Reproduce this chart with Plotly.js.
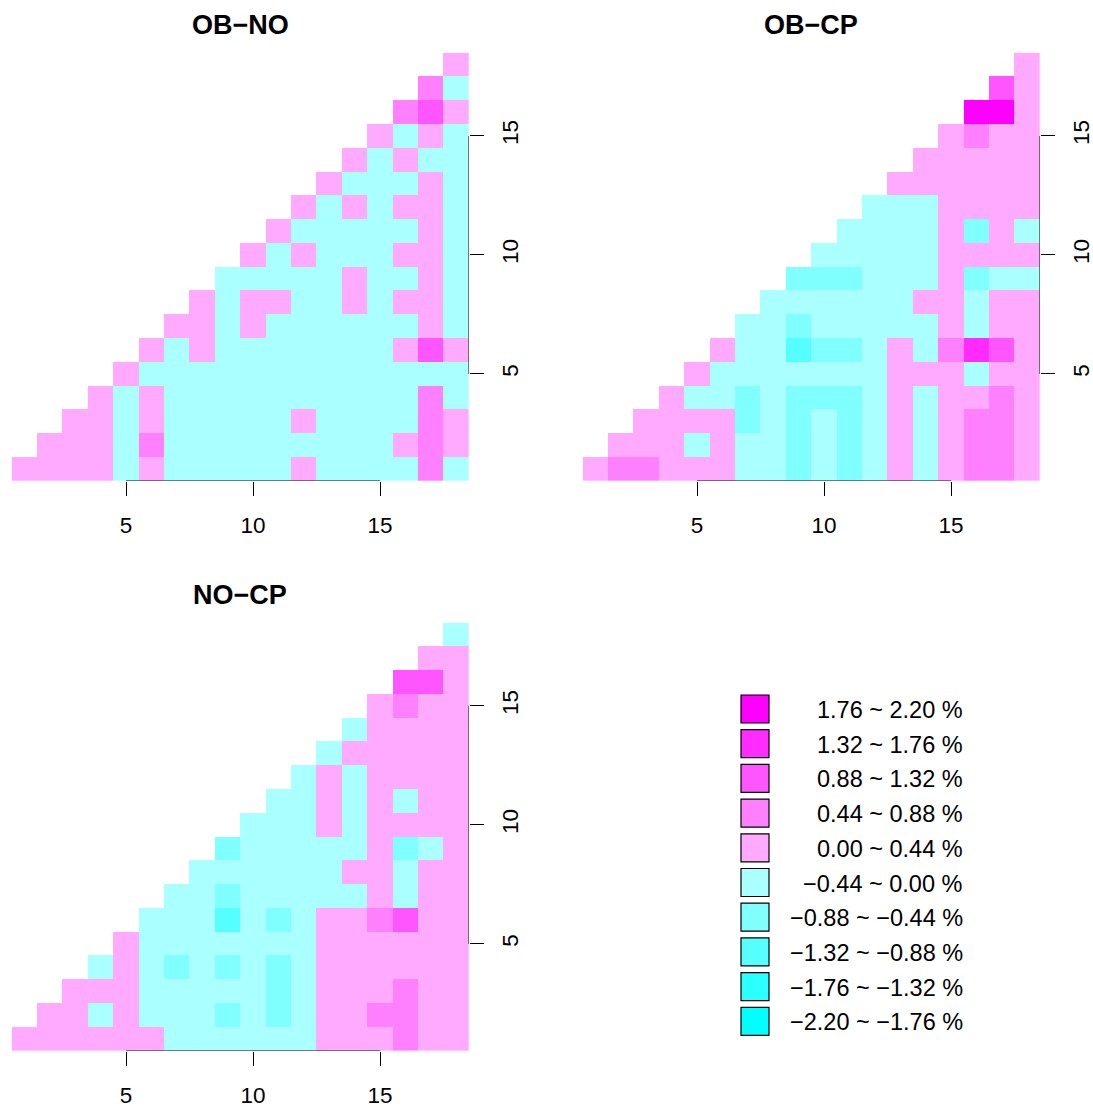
<!DOCTYPE html>
<html>
<head>
<meta charset="utf-8">
<script src="https://cdn.plot.ly/plotly-3.0.1.min.js"></script>
<style>html,body{margin:0;padding:0;background:#fff;}#chart{width:1093px;height:1108px;}</style>
</head>
<body>
<div id="chart"></div>
<script>
// ---------- data (percent differences, read per cell; row y holds cells x = y..18) ----------
const cols = [1,2,3,4,5,6,7,8,9,10,11,12,13,14,15,16,17,18];
const rowsY = [1,2,3,4,5,6,7,8,9,10,11,12,13,14,15,16,17,18];
const tickVals = [5, 10, 15];
const panelTitles = ["OB\u2212NO", "OB\u2212CP", "NO\u2212CP"];
const breaks = [-2.20, -1.76, -1.32, -0.88, -0.44, 0.00, 0.44, 0.88, 1.32, 1.76, 2.20];
const classColors = ["#00FFFF","#2BFFFF","#55FFFF","#80FFFF","#AAFFFF","#FFAAFF","#FF80FF","#FF55FF","#FF2BFF","#FF00FF"];

const obNo = [
  [0.22,0.22,0.22,0.22,-0.22,0.22,-0.22,-0.22,-0.22,-0.22,-0.22,0.22,-0.22,-0.22,-0.22,-0.22,0.66,-0.22],
  [0.22,0.22,0.22,-0.22,0.66,-0.22,-0.22,-0.22,-0.22,-0.22,-0.22,-0.22,-0.22,-0.22,0.22,0.66,0.22],
  [0.22,0.22,-0.22,0.22,-0.22,-0.22,-0.22,-0.22,-0.22,0.22,-0.22,-0.22,-0.22,-0.22,0.66,0.22],
  [0.22,-0.22,0.22,-0.22,-0.22,-0.22,-0.22,-0.22,-0.22,-0.22,-0.22,-0.22,-0.22,0.66,-0.22],
  [0.22,-0.22,-0.22,-0.22,-0.22,-0.22,-0.22,-0.22,-0.22,-0.22,-0.22,-0.22,-0.22,-0.22],
  [0.22,-0.22,0.22,-0.22,-0.22,-0.22,-0.22,-0.22,-0.22,-0.22,0.22,1.10,0.22],
  [0.22,0.22,-0.22,0.22,-0.22,-0.22,-0.22,-0.22,-0.22,-0.22,0.22,-0.22],
  [0.22,-0.22,0.22,0.22,-0.22,-0.22,0.22,-0.22,0.22,0.22,-0.22],
  [-0.22,-0.22,-0.22,-0.22,-0.22,0.22,-0.22,-0.22,0.22,-0.22],
  [0.22,-0.22,0.22,-0.22,-0.22,-0.22,0.22,0.22,-0.22],
  [0.22,-0.22,-0.22,-0.22,-0.22,-0.22,0.22,-0.22],
  [0.22,-0.22,0.22,-0.22,0.22,0.22,-0.22],
  [0.22,-0.22,-0.22,-0.22,0.22,-0.22],
  [0.22,-0.22,0.22,-0.22,-0.22],
  [0.22,-0.22,0.22,-0.22],
  [0.66,1.10,0.22],
  [0.66,-0.22],
  [0.22]
];

const obCp = [
  [0.22,0.66,0.66,0.22,0.22,0.22,-0.22,-0.22,-0.66,-0.22,-0.66,-0.22,0.22,-0.22,0.22,0.66,0.66,0.22],
  [0.22,0.22,0.22,-0.22,0.22,-0.22,-0.22,-0.66,-0.22,-0.66,-0.22,0.22,-0.22,0.22,0.66,0.66,0.22],
  [0.22,0.22,0.22,0.22,-0.66,-0.22,-0.66,-0.22,-0.66,-0.22,0.22,-0.22,0.22,0.66,0.66,0.22],
  [0.22,-0.22,-0.22,-0.66,-0.22,-0.66,-0.66,-0.66,-0.22,0.22,-0.22,0.22,0.22,0.66,0.22],
  [0.22,-0.22,-0.22,-0.22,-0.22,-0.22,-0.22,-0.22,0.22,0.22,0.22,-0.22,0.22,0.22],
  [0.22,-0.22,-0.22,-1.10,-0.66,-0.66,-0.22,0.22,-0.22,0.66,1.54,1.10,0.22],
  [-0.22,-0.22,-0.66,-0.22,-0.22,-0.22,-0.22,-0.22,0.22,-0.22,0.22,0.22],
  [-0.22,-0.22,-0.22,-0.22,-0.22,-0.22,0.22,0.22,-0.22,0.22,0.22],
  [-0.66,-0.66,-0.66,-0.22,-0.22,-0.22,0.22,-0.66,-0.22,-0.22],
  [-0.22,-0.22,-0.22,-0.22,-0.22,0.22,0.22,0.22,0.22],
  [-0.22,-0.22,-0.22,-0.22,0.22,-0.66,0.22,-0.22],
  [-0.22,-0.22,-0.22,0.22,0.22,0.22,0.22],
  [0.22,0.22,0.22,0.22,0.22,0.22],
  [0.22,0.22,0.22,0.22,0.22],
  [0.22,0.66,0.22,0.22],
  [1.98,1.98,0.22],
  [1.10,0.22],
  [0.22]
];

const noCp = [
  [0.22,0.22,0.22,0.22,0.22,0.22,-0.22,-0.22,-0.22,-0.22,-0.22,-0.22,0.22,0.22,0.22,0.66,0.22,0.22],
  [0.22,0.22,-0.22,0.22,-0.22,-0.22,-0.22,-0.66,-0.22,-0.66,-0.22,0.22,0.22,0.66,0.66,0.22,0.22],
  [0.22,0.22,0.22,-0.22,-0.22,-0.22,-0.22,-0.22,-0.66,-0.22,0.22,0.22,0.22,0.66,0.22,0.22],
  [-0.22,0.22,-0.22,-0.66,-0.22,-0.66,-0.22,-0.66,-0.22,0.22,0.22,0.22,0.22,0.22,0.22],
  [0.22,-0.22,-0.22,-0.22,-0.22,-0.22,-0.22,-0.22,0.22,0.22,0.22,0.22,0.22,0.22],
  [-0.22,-0.22,-0.22,-1.10,-0.22,-0.66,-0.22,0.22,0.22,0.66,1.10,0.22,0.22],
  [-0.22,-0.22,-0.66,-0.22,-0.22,-0.22,-0.22,-0.22,0.22,-0.22,0.22,0.22],
  [-0.22,-0.22,-0.22,-0.22,-0.22,-0.22,0.22,0.22,-0.22,0.22,0.22],
  [-0.66,-0.22,-0.22,-0.22,-0.22,-0.22,0.22,-0.66,-0.22,0.22],
  [-0.22,-0.22,-0.22,0.22,-0.22,0.22,0.22,0.22,0.22],
  [-0.22,-0.22,0.22,-0.22,0.22,-0.22,0.22,0.22],
  [-0.22,0.22,-0.22,0.22,0.22,0.22,0.22],
  [-0.22,0.22,0.22,0.22,0.22,0.22],
  [-0.22,0.22,0.22,0.22,0.22],
  [0.22,0.66,0.22,0.22],
  [1.10,1.10,0.22],
  [0.22,0.22],
  [-0.22]
];

// ---------- build ----------
const W = 1093, H = 1108;
const FONT = "Liberation Sans, Arial, Helvetica, sans-serif";

function toGrid(tri) {
  return rowsY.map((y, yi) => cols.map(x => (x < y ? null : tri[yi][x - y])));
}

const cs = [];
classColors.forEach((c, i) => { cs.push([i / 10, c]); cs.push([(i + 1) / 10, c]); });

const datasets = [obNo, obCp, noCp];
// panel pixel boxes [left, right, top, bottom]
const boxes = [[11.7, 469, 52.7, 481], [582.7, 1040, 52.7, 481], [11.7, 469, 622.6, 1051]];

const traces = [];
const layout = {
  width: W, height: H,
  margin: {l: 0, r: 0, t: 0, b: 0},
  paper_bgcolor: "#fff", plot_bgcolor: "rgba(0,0,0,0)",
  showlegend: false,
  font: {family: FONT, color: "#000"},
  shapes: [], annotations: []
};

datasets.forEach((d, i) => {
  const n = i === 0 ? "" : String(i + 1);
  const b = boxes[i];
  traces.push({
    type: "heatmap", x: cols, y: rowsY, z: toGrid(d),
    xaxis: "x" + n, yaxis: "y" + n,
    colorscale: cs, zmin: breaks[0], zmax: breaks[breaks.length - 1],
    showscale: false, hoverinfo: "skip"
  });
  const common = {
    range: [0.5, 18.5], tickvals: tickVals, ticks: "outside", ticklen: 14, tickwidth: 1,
    tickcolor: "#000", showgrid: false, zeroline: false, showline: false, fixedrange: true,
    tickfont: {size: 22.5, family: FONT, color: "#000"}
  };
  layout["xaxis" + n] = Object.assign({}, common, {
    domain: [b[0] / W, b[1] / W], anchor: "y" + n, ticklabelstandoff: 10
  });
  layout["yaxis" + n] = Object.assign({}, common, {
    domain: [1 - b[3] / H, 1 - b[2] / H], anchor: "x" + n, side: "right", tickangle: -90, ticklabelstandoff: 7
  });
  const lo = tickVals[0], hi = tickVals[tickVals.length - 1];
  layout.shapes.push({type: "line", xref: "x" + n, yref: "y" + n, x0: lo, x1: hi, y0: 0.5, y1: 0.5, line: {color: "#000", width: 1}, layer: "above"});
  layout.shapes.push({type: "line", xref: "x" + n, yref: "y" + n, x0: 18.5, x1: 18.5, y0: lo, y1: hi, line: {color: "#000", width: 1}, layer: "above"});
  layout.annotations.push({
    text: panelTitles[i], xref: "paper", yref: "paper",
    x: (b[0] + b[1]) / 2 / W, y: 1 - (b[2] - 27.5) / H, xanchor: "center", yanchor: "middle",
    showarrow: false, font: {size: 27, weight: "bold", family: FONT, color: "#000"}
  });
});

// ---------- legend (custom, in pixel-like axis) ----------
const legendLabels = [];
const legendColors = [];
const fmt = v => (v < 0 ? "\u2212" : "") + Math.abs(v).toFixed(2);
for (let k = classColors.length - 1; k >= 0; k--) {
  legendLabels.push(fmt(breaks[k]) + " ~ " + fmt(breaks[k + 1]) + " %");
  legendColors.push(classColors[k]);
}
const legY = legendLabels.map((_, i) => 709 + i * 34.7);
layout.xaxis4 = {domain: [700 / W, 1000 / W], range: [700, 1000], visible: false, fixedrange: true, anchor: "y4"};
layout.yaxis4 = {domain: [1 - 1060 / H, 1 - 670 / H], range: [1060, 670], visible: false, fixedrange: true, anchor: "x4"};
traces.push({
  type: "scatter", mode: "markers", x: legY.map(() => 755), y: legY, xaxis: "x4", yaxis: "y4",
  marker: {symbol: "square", size: 28, color: legendColors, line: {color: "#000", width: 1.2}},
  hoverinfo: "skip"
});
legendLabels.forEach((t, i) => {
  layout.annotations.push({
    text: t, xref: "x4", yref: "y4", x: 965, y: legY[i] + 1, xanchor: "right", yanchor: "middle",
    showarrow: false, font: {size: 23.5, family: FONT, color: "#000"}
  });
});

Plotly.newPlot("chart", traces, layout, {staticPlot: true, displayModeBar: false});
</script>
</body>
</html>
